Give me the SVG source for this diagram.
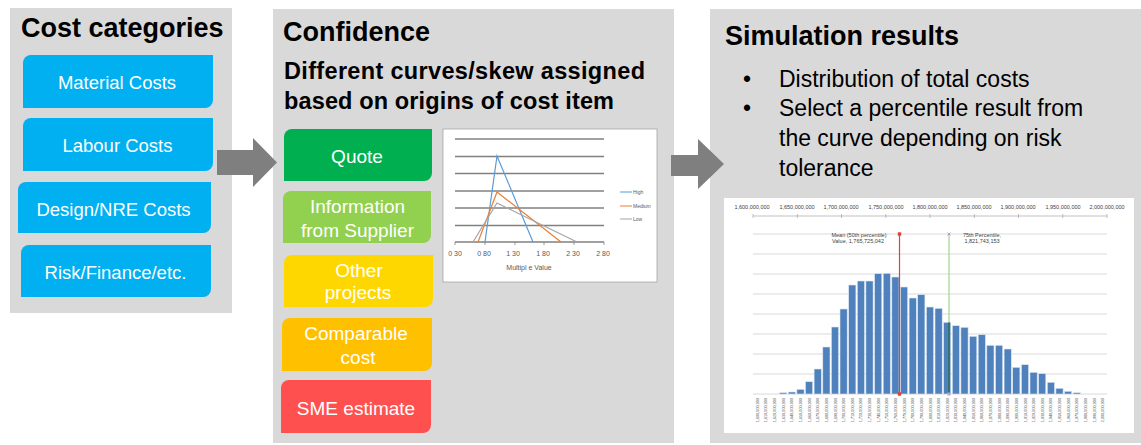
<svg xmlns="http://www.w3.org/2000/svg" width="1141" height="445" viewBox="0 0 1141 445">
  <style>
    .panel { fill: #D9D9D9; }
    .title { font-family: "Liberation Sans", Arial, sans-serif; font-weight: bold; font-size: 27px; fill: #000; }
    .sub { font-family: "Liberation Sans", Arial, sans-serif; font-weight: bold; font-size: 23.5px; fill: #000; }
    .body { font-family: "Liberation Sans", Arial, sans-serif; font-size: 23px; fill: #000; }
    .lbl { font-family: "Liberation Sans", Arial, sans-serif; font-size: 18.5px; fill: #FFFFFF; text-anchor: middle; }
    .cat { fill: #00B0F0; }
    .arrow { fill: #7F7F7F; }
    .tiny { font-family: "Liberation Sans", Arial, sans-serif; font-size: 7px; fill: #595959; }
    .leg { font-family: "Liberation Sans", Arial, sans-serif; font-size: 5px; fill: #595959; }
    .grid { stroke: #808080; stroke-width: 1.4; }
    .hgrid { stroke: #D9D9D9; stroke-width: 1; }
    .ax { font-family: "Liberation Sans", Arial, sans-serif; font-size: 5.5px; fill: #404040; text-anchor: middle; }
    .bin { font-family: "Liberation Sans", Arial, sans-serif; font-size: 3.8px; fill: #595959; text-anchor: end; }
    .bar { fill: #4F81BD; stroke: #DCE6F2; stroke-width: 0.6; }
  </style>

  <!-- Panel 1: cost categories -->
  <g id="panel-cost-categories">
    <rect class="panel" x="10" y="8" width="222" height="305"/>
    <text class="title" x="21" y="37">Cost categories</text>
  </g>
  <g id="node-material">
    <path class="cat" d="M31,55 H213 V100 A8,8 0 0 1 205,108 H23 V63 A8,8 0 0 1 31,55 Z"/>
    <text class="lbl" x="117" y="89">Material Costs</text>
  </g>
  <g id="node-labour">
    <path class="cat" d="M31,118 H213 V163 A8,8 0 0 1 205,171 H23 V126 A8,8 0 0 1 31,118 Z"/>
    <text class="lbl" x="117.5" y="152">Labour Costs</text>
  </g>
  <g id="node-design">
    <path class="cat" d="M26,182 H211 V225 A8,8 0 0 1 203,233 H18 V190 A8,8 0 0 1 26,182 Z"/>
    <text class="lbl" x="113.5" y="216">Design/NRE Costs</text>
  </g>
  <g id="node-risk">
    <path class="cat" d="M29,245 H211 V289 A8,8 0 0 1 203,297 H21 V253 A8,8 0 0 1 29,245 Z"/>
    <text class="lbl" x="115.5" y="279">Risk/Finance/etc.</text>
  </g>

  <!-- Panel 2: confidence -->
  <g id="panel-confidence">
    <rect class="panel" x="273" y="9" width="401" height="434"/>
    <text class="title" x="283" y="41">Confidence</text>
    <text class="sub" x="284" y="79" textLength="361" lengthAdjust="spacing">Different curves/skew assigned</text>
    <text class="sub" x="284" y="109" textLength="330" lengthAdjust="spacing">based on origins of cost item</text>
  </g>
  <g id="node-quote">
    <path fill="#00B050" d="M292,129 H432 V173 A8,8 0 0 1 424,181 H284 V137 A8,8 0 0 1 292,129 Z"/>
    <text class="lbl" x="357" y="163" style="font-size:19px">Quote</text>
  </g>
  <g id="node-supplier">
    <path fill="#92D050" d="M291,191 H431 V235 A8,8 0 0 1 423,243 H283 V199 A8,8 0 0 1 291,191 Z"/>
    <text class="lbl" x="357.5" y="213" style="font-size:19px">Information</text>
    <text class="lbl" x="357.5" y="237" style="font-size:19px">from Supplier</text>
  </g>
  <g id="node-other">
    <path fill="#FFD700" d="M292,255 H433 V299 A8,8 0 0 1 425,307 H284 V263 A8,8 0 0 1 292,255 Z"/>
    <text class="lbl" x="359" y="277" style="font-size:19px">Other</text>
    <text class="lbl" x="358" y="299" style="font-size:19px">projects</text>
  </g>
  <g id="node-comparable">
    <path fill="#FFC000" d="M290,318 H432 V363 A8,8 0 0 1 424,371 H282 V326 A8,8 0 0 1 290,318 Z"/>
    <text class="lbl" x="356" y="340" style="font-size:19px">Comparable</text>
    <text class="lbl" x="358" y="364" style="font-size:19px">cost</text>
  </g>
  <g id="node-sme">
    <path fill="#FF5050" d="M289,380 H431 V425 A8,8 0 0 1 423,433 H281 V388 A8,8 0 0 1 289,380 Z"/>
    <text class="lbl" x="356" y="415" style="font-size:19px">SME estimate</text>
  </g>

  <!-- Triangular distribution chart -->
  <g id="chart-curves">
    <rect x="443" y="129" width="214" height="153" fill="#FFFFFF" stroke="#A6A6A6" stroke-width="0.8"/>
    <g class="grid">
      <line x1="455" y1="139" x2="604" y2="139"/>
      <line x1="455" y1="156.5" x2="604" y2="156.5"/>
      <line x1="455" y1="173.5" x2="604" y2="173.5"/>
      <line x1="455" y1="191" x2="604" y2="191"/>
      <line x1="455" y1="208" x2="604" y2="208"/>
      <line x1="455" y1="225.5" x2="604" y2="225.5"/>
      <line x1="455" y1="242" x2="604" y2="242"/>
    </g>
    <g stroke="#808080" stroke-width="0.8">
      <line x1="455" y1="242" x2="455" y2="245"/>
      <line x1="485" y1="242" x2="485" y2="245"/>
      <line x1="515" y1="242" x2="515" y2="245"/>
      <line x1="544" y1="242" x2="544" y2="245"/>
      <line x1="574" y1="242" x2="574" y2="245"/>
      <line x1="604" y1="242" x2="604" y2="245"/>
    </g>
    <g class="tiny" text-anchor="middle">
      <text x="455" y="256">0 30</text>
      <text x="484" y="256">0 80</text>
      <text x="513" y="256">1 30</text>
      <text x="543" y="256">1 80</text>
      <text x="573" y="256">2 30</text>
      <text x="603" y="256">2 80</text>
      <text x="529" y="270">Multipl e  Value</text>
    </g>
    <g fill="none" stroke-width="1.2" stroke-linejoin="miter">
      <polyline stroke="#5B9BD5" points="485,242 497,156 533,242"/>
      <polyline stroke="#ED7D31" points="478,242 497,192 561,242"/>
      <polyline stroke="#A5A5A5" points="473,242 497,203 577,242"/>
    </g>
    <g stroke-width="1">
      <line x1="620" y1="192" x2="632" y2="192" stroke="#5B9BD5"/>
      <line x1="620" y1="206" x2="632" y2="206" stroke="#ED7D31"/>
      <line x1="620" y1="219" x2="632" y2="219" stroke="#A5A5A5"/>
    </g>
    <g class="leg">
      <text x="633" y="194">High</text>
      <text x="633" y="208">Medium</text>
      <text x="633" y="221">Low</text>
    </g>
  </g>

  <!-- Panel 3: simulation results -->
  <g id="panel-simulation">
    <rect class="panel" x="710" y="9" width="431" height="434"/>
    <text class="title" x="725" y="45">Simulation results</text>
    <g class="body">
      <text x="743" y="87">•</text>
      <text x="779" y="87">Distribution of total costs</text>
      <text x="743" y="116">•</text>
      <text x="779" y="116">Select a percentile result from</text>
      <text x="779" y="146">the curve depending on risk</text>
      <text x="779" y="176">tolerance</text>
    </g>
  </g>

  <!-- Histogram of total cost -->
  <g id="chart-histogram">
    <rect x="723.5" y="197.5" width="411" height="236" fill="#FFFFFF" stroke="#D9D9D9" stroke-width="1"/>
    <g class="ax">
      <text x="752" y="209">1,600,000,000</text>
      <text x="797" y="209">1,650,000,000</text>
      <text x="841" y="209">1,700,000,000</text>
      <text x="886" y="209">1,750,000,000</text>
      <text x="930" y="209">1,800,000,000</text>
      <text x="974" y="209">1,850,000,000</text>
      <text x="1018" y="209">1,900,000,000</text>
      <text x="1063" y="209">1,950,000,000</text>
      <text x="1107" y="209">2,000,000,000</text>
    </g>
    <g stroke="#A6A6A6" stroke-width="0.7">
      <line x1="753" y1="216" x2="1107" y2="216"/>
      <line x1="753" y1="214" x2="753" y2="218"/>
      <line x1="797.3" y1="214" x2="797.3" y2="218"/>
      <line x1="841.5" y1="214" x2="841.5" y2="218"/>
      <line x1="885.8" y1="214" x2="885.8" y2="218"/>
      <line x1="930" y1="214" x2="930" y2="218"/>
      <line x1="974.3" y1="214" x2="974.3" y2="218"/>
      <line x1="1018.5" y1="214" x2="1018.5" y2="218"/>
      <line x1="1062.8" y1="214" x2="1062.8" y2="218"/>
      <line x1="1107" y1="214" x2="1107" y2="218"/>
    </g>
    <g class="hgrid">
      <line x1="753" y1="234" x2="1107" y2="234"/>
      <line x1="753" y1="254" x2="1107" y2="254"/>
      <line x1="753" y1="274" x2="1107" y2="274"/>
      <line x1="753" y1="294" x2="1107" y2="294"/>
      <line x1="753" y1="314" x2="1107" y2="314"/>
      <line x1="753" y1="334" x2="1107" y2="334"/>
      <line x1="753" y1="354" x2="1107" y2="354"/>
      <line x1="753" y1="374" x2="1107" y2="374"/>
      <line x1="753" y1="394" x2="1107" y2="394"/>
    </g>
    <g class="bar">
      <rect x="779.6" y="392.7" width="7.2" height="1.3"/>
      <rect x="788.2" y="392" width="7.2" height="2"/>
      <rect x="796.9" y="389.3" width="7.2" height="4.7"/>
      <rect x="805.5" y="381.7" width="7.2" height="12.3"/>
      <rect x="814.1" y="369" width="7.2" height="25"/>
      <rect x="822.8" y="347" width="7.2" height="47"/>
      <rect x="831.4" y="327" width="7.2" height="67"/>
      <rect x="840.0" y="309" width="7.2" height="85"/>
      <rect x="848.7" y="285" width="7.2" height="109"/>
      <rect x="857.3" y="281" width="7.2" height="113"/>
      <rect x="865.9" y="281" width="7.2" height="113"/>
      <rect x="874.6" y="273.7" width="7.2" height="120.3"/>
      <rect x="883.2" y="273.3" width="7.2" height="120.7"/>
      <rect x="891.8" y="277" width="7.2" height="117"/>
      <rect x="900.5" y="287" width="7.2" height="107"/>
      <rect x="909.1" y="298" width="7.2" height="96"/>
      <rect x="917.7" y="294.7" width="7.2" height="99.3"/>
      <rect x="926.4" y="307" width="7.2" height="87"/>
      <rect x="935.0" y="308.3" width="7.2" height="85.7"/>
      <rect x="943.6" y="322.3" width="7.2" height="71.7"/>
      <rect x="952.3" y="325.7" width="7.2" height="68.3"/>
      <rect x="960.9" y="327.3" width="7.2" height="66.7"/>
      <rect x="969.6" y="336.3" width="7.2" height="57.7"/>
      <rect x="978.2" y="334.7" width="7.2" height="59.3"/>
      <rect x="986.8" y="345.3" width="7.2" height="48.7"/>
      <rect x="995.5" y="345.3" width="7.2" height="48.7"/>
      <rect x="1004.1" y="349" width="7.2" height="45"/>
      <rect x="1012.7" y="367.3" width="7.2" height="26.7"/>
      <rect x="1021.4" y="364.7" width="7.2" height="29.3"/>
      <rect x="1030.0" y="372.3" width="7.2" height="21.7"/>
      <rect x="1038.6" y="373.7" width="7.2" height="20.3"/>
      <rect x="1047.3" y="382.3" width="7.2" height="11.7"/>
      <rect x="1055.9" y="388.3" width="7.2" height="5.7"/>
      <rect x="1064.5" y="391.3" width="7.2" height="2.7"/>
      <rect x="1073.2" y="392.7" width="7.2" height="1.3"/>
    </g>
    <!-- percentile markers -->
    <line x1="899.5" y1="234" x2="899.5" y2="394" stroke="#E0403A" stroke-width="1.2"/>
    <rect x="897.8" y="232.3" width="3.4" height="3.4" fill="#E0403A"/>
    <rect x="897.8" y="392.3" width="3.4" height="3.4" fill="#E0403A"/>
    <line x1="949" y1="234" x2="949" y2="322.3" stroke="#A9D08E" stroke-width="1.2"/>
    <line x1="949" y1="322.3" x2="949" y2="394" stroke="#2E7050" stroke-width="1.4"/>
    <g stroke="#9C8FC8" stroke-width="0.8">
      <line x1="947.5" y1="232.5" x2="950.5" y2="235.5"/>
      <line x1="947.5" y1="235.5" x2="950.5" y2="232.5"/>
    </g>
    <rect x="947.5" y="392.5" width="3" height="3" fill="#B4A7D6"/>
    <g class="ax">
      <text x="859" y="236.5">Mean (50th percentile)</text>
      <text x="858" y="243">Value, 1,765,725,042</text>
      <text x="982" y="236.5">75th Percentile,</text>
      <text x="982" y="243">1,821,743,153</text>
    </g>
    <g class="bin">
      <text transform="translate(758.8,398) rotate(-90)">1,600,000,000</text>
      <text transform="translate(767.4,398) rotate(-90)">1,610,000,000</text>
      <text transform="translate(776.1,398) rotate(-90)">1,620,000,000</text>
      <text transform="translate(784.7,398) rotate(-90)">1,630,000,000</text>
      <text transform="translate(793.3,398) rotate(-90)">1,640,000,000</text>
      <text transform="translate(802.0,398) rotate(-90)">1,650,000,000</text>
      <text transform="translate(810.6,398) rotate(-90)">1,660,000,000</text>
      <text transform="translate(819.2,398) rotate(-90)">1,670,000,000</text>
      <text transform="translate(827.9,398) rotate(-90)">1,680,000,000</text>
      <text transform="translate(836.5,398) rotate(-90)">1,690,000,000</text>
      <text transform="translate(845.1,398) rotate(-90)">1,700,000,000</text>
      <text transform="translate(853.8,398) rotate(-90)">1,710,000,000</text>
      <text transform="translate(862.4,398) rotate(-90)">1,720,000,000</text>
      <text transform="translate(871.0,398) rotate(-90)">1,730,000,000</text>
      <text transform="translate(879.7,398) rotate(-90)">1,740,000,000</text>
      <text transform="translate(888.3,398) rotate(-90)">1,750,000,000</text>
      <text transform="translate(896.9,398) rotate(-90)">1,760,000,000</text>
      <text transform="translate(905.6,398) rotate(-90)">1,770,000,000</text>
      <text transform="translate(914.2,398) rotate(-90)">1,780,000,000</text>
      <text transform="translate(922.8,398) rotate(-90)">1,790,000,000</text>
      <text transform="translate(931.5,398) rotate(-90)">1,800,000,000</text>
      <text transform="translate(940.1,398) rotate(-90)">1,810,000,000</text>
      <text transform="translate(948.7,398) rotate(-90)">1,820,000,000</text>
      <text transform="translate(957.4,398) rotate(-90)">1,830,000,000</text>
      <text transform="translate(966.0,398) rotate(-90)">1,840,000,000</text>
      <text transform="translate(974.7,398) rotate(-90)">1,850,000,000</text>
      <text transform="translate(983.3,398) rotate(-90)">1,860,000,000</text>
      <text transform="translate(991.9,398) rotate(-90)">1,870,000,000</text>
      <text transform="translate(1000.6,398) rotate(-90)">1,880,000,000</text>
      <text transform="translate(1009.2,398) rotate(-90)">1,890,000,000</text>
      <text transform="translate(1017.8,398) rotate(-90)">1,900,000,000</text>
      <text transform="translate(1026.5,398) rotate(-90)">1,910,000,000</text>
      <text transform="translate(1035.1,398) rotate(-90)">1,920,000,000</text>
      <text transform="translate(1043.7,398) rotate(-90)">1,930,000,000</text>
      <text transform="translate(1052.4,398) rotate(-90)">1,940,000,000</text>
      <text transform="translate(1061.0,398) rotate(-90)">1,950,000,000</text>
      <text transform="translate(1069.6,398) rotate(-90)">1,960,000,000</text>
      <text transform="translate(1078.3,398) rotate(-90)">1,970,000,000</text>
      <text transform="translate(1086.9,398) rotate(-90)">1,980,000,000</text>
      <text transform="translate(1095.5,398) rotate(-90)">1,990,000,000</text>
      <text transform="translate(1104.2,398) rotate(-90)">2,000,000,000</text>
    </g>
  </g>

  <!-- Flow arrows between the three stages -->
  <g id="connectors">
    <polygon class="arrow" points="217,150 253,150 253,138 277,162.5 253,187 253,175 217,175"/>
    <polygon class="arrow" points="671,155 698,155 698,139 724,164 698,189 698,176 671,176"/>
  </g>
</svg>
